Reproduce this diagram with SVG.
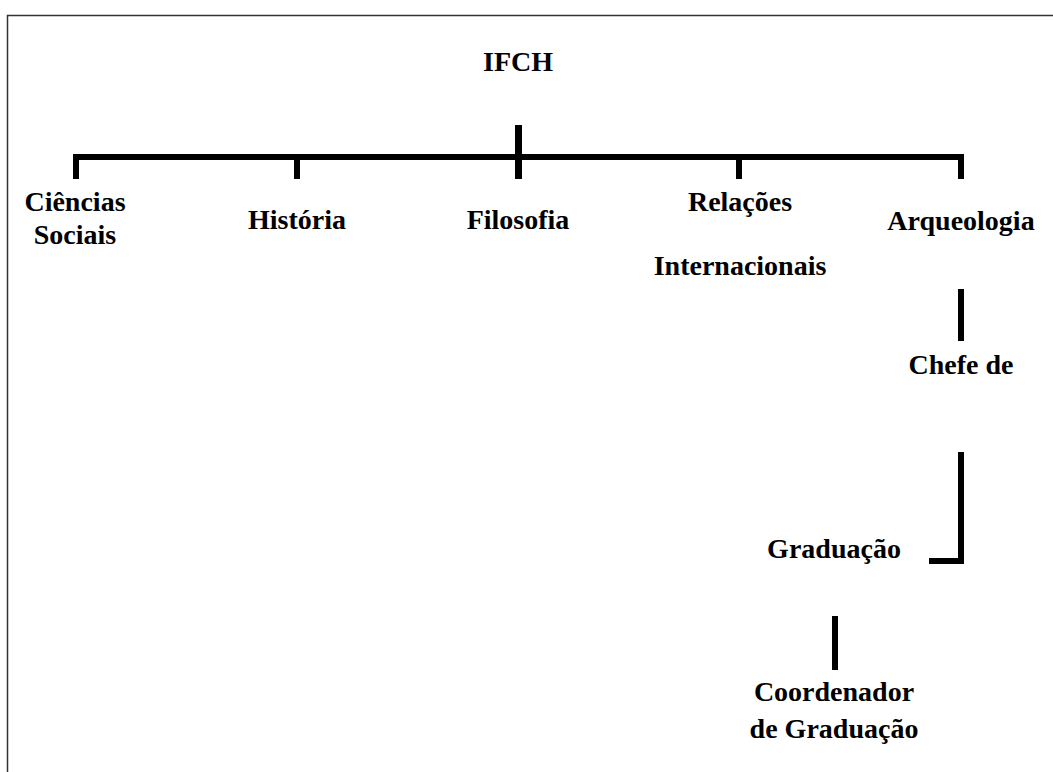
<svg xmlns="http://www.w3.org/2000/svg" width="1053" height="772" viewBox="0 0 1053 772">
<style>
.lbl{font-family:"Liberation Serif","Times New Roman",serif;font-weight:bold;font-size:28px;fill:#000;text-anchor:middle}
.c{fill:#000}
.frame{fill:none;stroke:#333;stroke-width:1.5}
</style>
<rect width="1053" height="772" fill="#fff"/>
<path class="frame" d="M7.5,772 V15.5 H1053"/>
<g id="connectors">
<rect class="c" x="515" y="125" width="7" height="35"/>
<rect class="c" x="73" y="154" width="891" height="6"/>
<rect class="c" x="73" y="154" width="6" height="25"/>
<rect class="c" x="294" y="154" width="6" height="25"/>
<rect class="c" x="515" y="154" width="7" height="25"/>
<rect class="c" x="736" y="154" width="6" height="25"/>
<rect class="c" x="958" y="154" width="6" height="25"/>
<rect class="c" x="958" y="289" width="6" height="52"/>
<rect class="c" x="958" y="452" width="6" height="112"/>
<rect class="c" x="929" y="558" width="35" height="6"/>
<rect class="c" x="832" y="616" width="6" height="54"/>
</g>
<g id="ifch"><text class="lbl" x="518" y="71">IFCH</text></g>
<g id="ciencias-sociais"><text class="lbl" x="75" y="211">Ciências</text><text class="lbl" x="75" y="244">Sociais</text></g>
<g id="historia"><text class="lbl" x="297" y="229">História</text></g>
<g id="filosofia"><text class="lbl" x="518" y="229">Filosofia</text></g>
<g id="relacoes-internacionais"><text class="lbl" x="740" y="211">Relações</text><text class="lbl" x="740" y="275">Internacionais</text></g>
<g id="arqueologia"><text class="lbl" x="961" y="230">Arqueologia</text></g>
<g id="chefe-de"><text class="lbl" x="961" y="374">Chefe de</text></g>
<g id="graduacao"><text class="lbl" x="834" y="558">Graduação</text></g>
<g id="coordenador"><text class="lbl" x="834" y="701">Coordenador</text><text class="lbl" x="834" y="738">de Graduação</text></g>
</svg>
